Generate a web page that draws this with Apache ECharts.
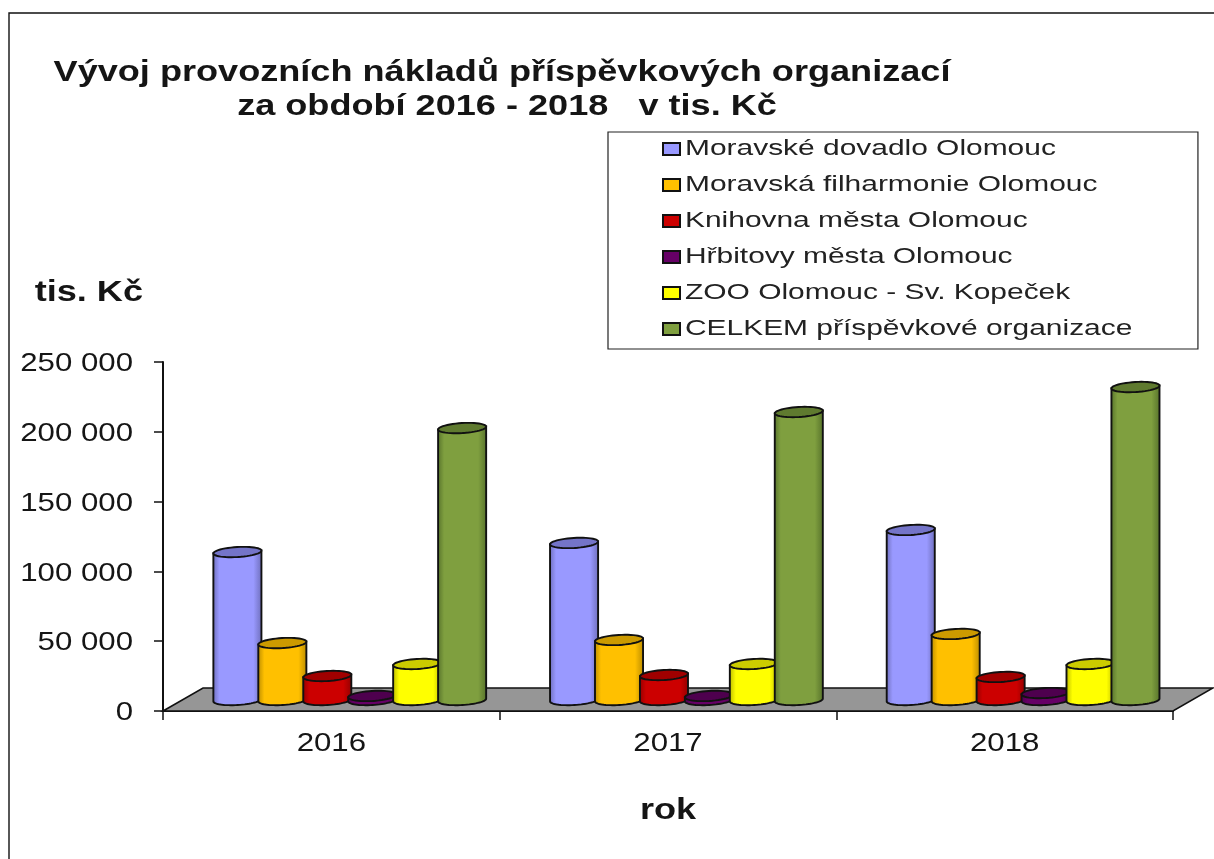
<!DOCTYPE html>
<html><head><meta charset="utf-8">
<style>html,body{margin:0;padding:0;background:#fff}#c{width:1214px;height:859px}</style>
<script src="https://cdn.jsdelivr.net/npm/echarts@6/dist/echarts.min.js"></script>
</head><body><div id="c"></div>
<script>
const categories = ['2016', '2017', '2018'];
const divadlo = [106000, 112500, 121800];
const filharmonie = [40800, 43000, 47300];
const knihovna = [17200, 17900, 16500];
const hrbitovy = [2900, 2900, 5000];
const zoo = [25800, 25800, 25800];
const celkem = [194800, 206300, 224200];
const seriesNames = ['Moravské dovadlo Olomouc', 'Moravská filharmonie Olomouc', 'Knihovna města Olomouc', 'Hřbitovy města Olomouc', 'ZOO Olomouc - Sv. Kopeček', 'CELKEM příspěvkové organizace'];
const seriesValues = [divadlo, filharmonie, knihovna, hrbitovy, zoo, celkem];
const colors = ['#9999FF', '#FFC000', '#CC0000', '#660066', '#FFFF00', '#7F9F3F'];
const topColors = ['#7474C8', '#CC9A00', '#A00000', '#4E004E', '#CCCC00', '#5F7A2F'];
const edgeColors = ['#6C6CB8', '#B88A00', '#900000', '#4A004A', '#B8B800', '#55702A'];

const FONT = '"Liberation Sans", Arial, sans-serif';
const INK = '#151515';

// The reference text is horizontally stretched: widen glyphs per font size at draw time.
const textStretch = { 22: 1.36, 26: 1.2, 29: 1.245 };
const nativeFillText = CanvasRenderingContext2D.prototype.fillText;
CanvasRenderingContext2D.prototype.fillText = function (t, x, y, m) {
  const px = parseInt((this.font.match(/(\d+)(?:\.\d+)?px/) || [])[1], 10);
  const s = textStretch[px];
  if (!s) return m === undefined ? nativeFillText.call(this, t, x, y) : nativeFillText.call(this, t, x, y, m);
  this.save();
  this.translate(x, y);
  this.scale(s, 1);
  nativeFillText.call(this, t, 0, 0);
  this.restore();
};

function ellipsePoints(cx, cy, rx, ry, a, from, to, n) {
  const pts = [];
  for (let i = 0; i <= n; i++) {
    const t = from + (to - from) * i / n;
    const ex = rx * Math.cos(t), ey = ry * Math.sin(t);
    pts.push([cx + ex * Math.cos(a) - ey * Math.sin(a), cy + ex * Math.sin(a) + ey * Math.cos(a)]);
  }
  return pts;
}

function cylinder(k) {
  return function (params, api) {
    const i = api.value(0);
    const catW = api.size([1, 0])[0];
    const base = api.coord([i, 0]);
    const top = api.coord([i, api.value(1)]);
    const cx = base[0] + catW * (-0.279 + 0.1335 * k);
    const rx = catW * 0.0715, ry = 5, a = -0.06, lift = 11;
    const yB = base[1] - lift, yT = top[1] - lift;
    const body = ellipsePoints(cx, yB, rx, ry, a, Math.PI, 0, 32)
      .concat(ellipsePoints(cx, yT, rx, ry, a, 0, Math.PI, 2));
    const cap = ellipsePoints(cx, yT, rx, ry, a, 0, Math.PI * 2, 48);
    const grad = new echarts.graphic.LinearGradient(0, 0, 1, 0, [
      { offset: 0, color: edgeColors[k] },
      { offset: 0.14, color: colors[k] },
      { offset: 0.82, color: colors[k] },
      { offset: 1, color: edgeColors[k] }
    ]);
    return {
      type: 'group',
      children: [
        { type: 'polygon', shape: { points: body }, style: { fill: grad, stroke: '#111', lineWidth: 1.9 } },
        { type: 'polygon', shape: { points: cap }, style: { fill: topColors[k], stroke: '#111', lineWidth: 1.9 } }
      ]
    };
  };
}

const floorSeries = {
  type: 'custom', name: 'floor', silent: true, data: [[0, 0]], encode: { x: 0, y: 1 }, clip: false,
  renderItem: function (params, api) {
    const s = params.coordSys;
    const yF = s.y + s.height, d = s.height * 0.066;
    return {
      type: 'polygon',
      shape: { points: [[s.x, yF], [s.x + s.width, yF], [s.x + s.width + 40, yF - d], [s.x + 40, yF - d]] },
      style: { fill: '#969696', stroke: '#111', lineWidth: 1.6 }
    };
  }
};

const option = {
  animation: false,
  color: colors,
  title: {
    text: 'Vývoj provozních nákladů příspěvkových organizací\n za období 2016 - 2018   v tis. Kč',
    left: 497, top: 51, textAlign: 'center',
    textStyle: { fontFamily: FONT, fontSize: 29, fontWeight: 'bold', color: INK, lineHeight: 34 }
  },
  legend: {
    orient: 'vertical', left: 608, top: 132,
    padding: [4, 184, 7, 54],
    itemGap: 10, itemWidth: 17, itemHeight: 12,
    icon: 'rect',
    borderColor: '#222', borderWidth: 1.2,
    backgroundColor: '#fff',
    textStyle: { fontFamily: FONT, fontSize: 22, color: '#222', lineHeight: 26 },
    data: seriesNames
  },
  grid: { left: 163, right: 41, top: 362, bottom: 148 },
  xAxis: {
    type: 'category', data: categories,
    name: 'rok', nameLocation: 'middle', nameGap: 85,
    nameTextStyle: { fontFamily: FONT, fontSize: 29, fontWeight: 'bold', color: INK },
    axisLine: { onZero: false, lineStyle: { color: '#111', width: 2 } },
    axisTick: { show: true, length: 9, lineStyle: { color: '#111', width: 1.5 } },
    axisLabel: { fontFamily: FONT, fontSize: 26, color: INK, margin: 20 }
  },
  yAxis: {
    type: 'value', min: 0, max: 250000, interval: 50000,
    name: 'tis. Kč', nameLocation: 'end', nameGap: 55,
    nameTextStyle: { fontFamily: FONT, fontSize: 29, fontWeight: 'bold', color: INK, align: 'right', padding: [0, 20, 0, 0] },
    splitLine: { show: false },
    axisLine: { show: true, lineStyle: { color: '#111', width: 2 } },
    axisTick: { show: true, length: 9, lineStyle: { color: '#111', width: 1.5 } },
    axisLabel: { fontFamily: FONT, fontSize: 26, color: INK, margin: 30, verticalAlign: 'top', lineHeight: 4,
      formatter: v => String(v).replace(/\B(?=(\d{3})+$)/g, ' ') }
  },
  graphic: [{ type: 'rect', shape: { x: 9, y: 13, width: 1300, height: 950 }, style: { fill: 'none', stroke: '#111', lineWidth: 1.4 }, silent: true }],
  series: [floorSeries].concat(seriesNames.map((name, k) => ({
    type: 'custom', name: name, clip: false,
    itemStyle: { color: colors[k], borderColor: '#111', borderWidth: 2 },
    encode: { x: 0, y: 1 },
    renderItem: cylinder(k),
    data: seriesValues[k].map((v, i) => [i, v])
  })))
};
echarts.init(document.getElementById('c'), null, { renderer: 'canvas' }).setOption(option);
</script>
</body></html>
